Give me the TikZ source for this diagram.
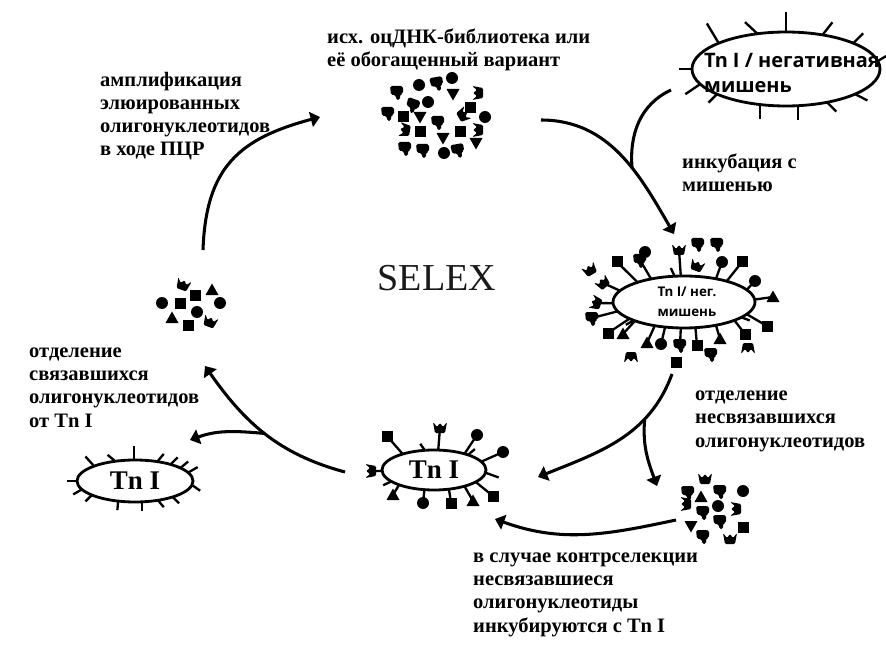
\documentclass[tikz,border=0pt]{standalone}
\usepackage{fontspec}
\setmainfont{Liberation Serif}
\newfontfamily\cellfont{Open Sans}
\usetikzlibrary{shapes.geometric,arrows.meta}

\tikzset{
  txt/.style={font=\bfseries\fontsize{17.5}{19.8}\selectfont, align=left, inner sep=0pt, anchor=base west},
  cell/.style={draw, ellipse, line width=2.4pt, inner sep=0pt, outer sep=0pt, font=\bfseries\fontsize{23}{23}\selectfont},
  celltxt/.style={align=left, inner sep=0pt, font=\cellfont\bfseries#1},
  spike/.style={line width=2pt},
  flow/.style={line width=2.6pt, -{Triangle[width=13pt,length=8pt]}},
  feed/.style={line width=2.6pt},
  pics/sq/.style={code={\fill (-5.5,-5.5) rectangle (5.5,5.5);}},
  pics/dot/.style={code={\fill (0,0) circle (6);}},
  pics/tri/.style={code={\fill (-6.5,-5) -- (6.5,-5) -- (0,6.5) -- cycle;}},
  pics/trid/.style={code={\fill (-6.5,5) -- (6.5,5) -- (0,-6.5) -- cycle;}},
  pics/flag/.style={code={\fill[rounded corners=1.5pt] (-7,6) -- (6,6) -- (6,-2) -- (3,-2) -- (3,-8) -- (-1,-8) -- (-1,-3) -- (-6,-3) -- cycle;}},
  pics/crown/.style={code={\fill[rounded corners=1pt] (-7,6) -- (-3,1) -- (0,5) -- (3,1) -- (7,6) -- (5,-5) -- (-5,-5) -- cycle;}},
}

\begin{document}
\begin{tikzpicture}[x=0.03cm, y=0.03cm]
\useasboundingbox (0,0) rectangle (886,-648);

% labels (placed at the baseline of their last line)
\node[txt] (libtxt) at (327,-67) {исх. оцДНК-библиотека или\\её обогащенный вариант};
\node[txt] (amptxt) at (100,-156) {амплификация\\элюированных\\олигонуклеотидов\\в ходе ПЦР};
\node[txt] (inctxt) at (682,-192) {инкубация с\\мишенью};
\node[txt] (septxt) at (695,-447) {отделение\\несвязавшихся\\олигонуклеотидов};
\node[txt] (elutxt) at (29,-427) {отделение\\связавшихся\\олигонуклеотидов\\от Tn I};
\node[txt] (cnttxt) at (473,-632) {в случае контрселекции\\несвязавшиеся\\олигонуклеотиды\\инкубируются с Tn I};
\node[font=\fontsize{32.5}{32.5}\selectfont, text=black!90] (selex) at (437,-278) {SELEX};

% targets
\node[cell, minimum width=5.64cm, minimum height=2.22cm] (neg) at (786,-69) {};
\node[celltxt={\fontsize{17}{21.3}\selectfont}] (negtxt) at (792,-73) {Tn I / негативная\\мишень};
\node[cell, minimum width=4.26cm, minimum height=1.56cm] (cplx) at (684,-302) {};
\node[celltxt={\fontsize{11.4}{17}\selectfont}] (cplxtxt) at (687,-302) {Tn I/ нег.\\мишень};
\node[cell, minimum width=3.12cm, minimum height=1.2cm] (tn) at (434,-470) {Tn I};
\node[cell, minimum width=3.48cm, minimum height=1.26cm] (free) at (135,-481) {Tn I};

% bare spikes
\foreach \a/\d/\l in {90/90/20, 159/121/23, 129/137/17, 43/52/16, 21/45/14, 5/30/10,
    180/180/13, 190/214/18, 200/225/12, 234/270/14, 288/270/14, 321/-45/13, 340/-27/14}
  \draw[spike] (neg.\a) -- ++(\d:\l);
\foreach \a/\d/\l in {160/132/13, 135/140/10, 92/90/14, 41/50/10, 25/45/10, 16/40/10, 9/30/11,
    -4/-35/10, -23/-45/9, -40/-50/9, -72/-90/9, 230/-95/9, 198/225/9, 189/210/10, 180/180/10}
  \draw[spike] (free.\a) -- ++(\d:\l);
\foreach \a/\d/\l in {115/125/8, 24/40/9, -3/-20/14, 195/205/9}
  \draw[spike] (tn.\a) -- ++(\d:\l);
\foreach \a/\d/\l in {110/115/9, 200/210/9, 345/-20/9}
  \draw[spike] (cplx.\a) -- ++(\d:\l);

% bound oligos on stalks
\foreach \m/\x/\y/\r in {crown/679/250/0, flag/640/260/0, sq/617/262/0, crown/603/283/40,
    crown/596/303/70, flag/592/318/0, sq/608/333/0, tri/623/334/0, tri/647/343/0, dot/661/344/0,
    flag/680/345/0, sq/697/345/0, tri/720/339/0, sq/745/334/0, sq/767/326/0, tri/773/297/0,
    dot/755/281/0, sq/742/262/0, dot/722/262/0} {
  \pgfmathsetmacro\t{atan2((302-\y)/48, (\x-684)/93)}
  \pgfmathsetmacro\b{atan2(26*sin(\t), 71*cos(\t))}
  \draw[spike] (cplx.\b) -- (\x,-\y);
  \pic[rotate=\r] at (\x,-\y) {\m};
}
\foreach \m/\x/\y/\r in {sq/387/436/0, crown/440/428/0, dot/477/435/0, dot/503/452/0,
    crown/371/471/90, sq/493/496/0, tri/473/501/0, sq/451/503/0, dot/423/503/0, tri/393/495/0} {
  \pgfmathsetmacro\t{atan2((470-\y)/42, (\x-434)/74)}
  \pgfmathsetmacro\b{atan2(20*sin(\t), 52*cos(\t))}
  \draw[spike] (tn.\b) -- (\x,-\y);
  \pic[rotate=\r] at (\x,-\y) {\m};
}

% loose oligos
\foreach \m/\x/\y/\r in {flag/698/244/0, flag/717/244/0, crown/697/266/-20, dot/645/252/0,
    crown/590/270/30, crown/631/357/180, sq/676/362/0, flag/711/354/0, crown/748/348/180,
    % library
    flag/397/92/0, dot/419/85/0, flag/437/83/10, dot/452/78/0, trid/453/94/0, crown/478/93/90,
    dot/428/102/0, flag/413/105/-20, flag/388/113/0, sq/403/117/0, trid/420/117/0, flag/438/122/0,
    sq/470/108/0, crown/463/115/-60, dot/485/117/0, crown/405/130/80, sq/420/132/0, trid/443/138/0,
    sq/460/132/0, crown/478/130/90, flag/405/148/0, flag/423/150/0, dot/444/153/0, flag/458/150/10,
    trid/476/143/0,
    % eluted
    crown/183/285/-20, tri/212/290/0, sq/195/295/0, dot/162/303/0, sq/180/303/0, dot/220/303/0,
    dot/197/312/0, tri/172/318/0, sq/188/325/0, crown/210/322/-20,
    % unbound
    crown/705/479/0, flag/688/492/0, tri/701/497/0, flag/720/491/0, dot/743/491/0, crown/686/504/90,
    flag/703/512/0, dot/718/506/0, crown/736/509/90, flag/720/521/0, trid/691/526/0, sq/743/527/0,
    flag/703/536/0, crown/730/539/0}
  \pic[rotate=\r] at (\x,-\y) {\m};

% cycle arrows
\coordinate (pcrS) at (203,-250);
\coordinate (libIn) at (320,-117);
\draw[flow] (pcrS) to[out=88, in=195, looseness=1.2] (libIn);

\coordinate (libOut) at (541,-120);
\coordinate (cplxIn) at (674,-234);
\coordinate (negOut) at (671,-90);
\draw[flow] (libOut) to[out=0, in=120] coordinate[pos=.6] (join) (cplxIn);
\draw[feed] (negOut) to[out=205, in=95] (join);

\coordinate (cplxOut) at (672,-374);
\coordinate (tnIn) at (538,-477);
\coordinate (unbIn) at (657,-486);
\draw[flow] (cplxOut) to[out=-110, in=22] coordinate[pos=.3] (split) (tnIn);
\draw[flow] (split) to[out=-95, in=110] (unbIn);

\coordinate (unbOut) at (676,-520);
\coordinate (tnBack) at (495,-519);
\draw[flow] (unbOut) to[out=192, in=-20] (tnBack);

\coordinate (tnOut) at (345,-472);
\coordinate (eluIn) at (205,-366);
\coordinate (freeIn) at (190,-440);
\draw[flow] (tnOut) to[out=165, in=-55] coordinate[pos=.5] (fork) (eluIn);
\draw[flow] (fork) to[out=175, in=20] (freeIn);
\end{tikzpicture}
\end{document}
